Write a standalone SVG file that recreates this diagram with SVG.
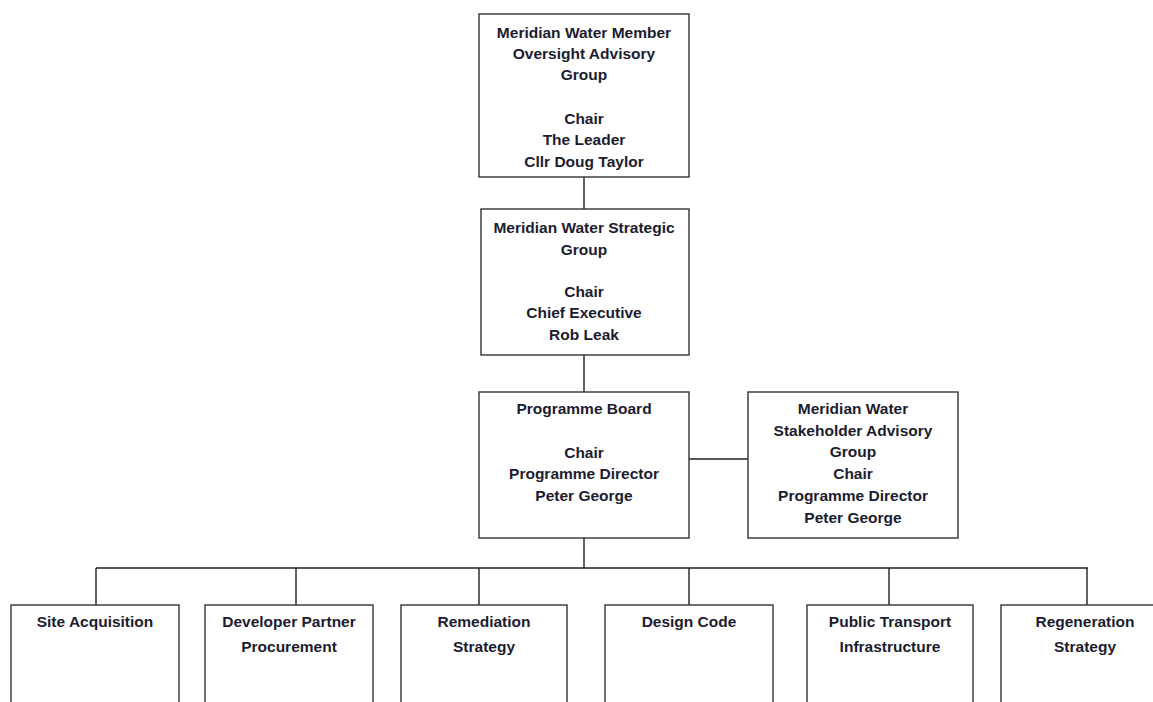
<svg xmlns="http://www.w3.org/2000/svg" width="1153" height="702" viewBox="0 0 1153 702">
<style>
.box{fill:#fff;stroke:#333;stroke-width:1.4}
.ln{fill:none;stroke:#222;stroke-width:1.4}
text{font-family:"Liberation Sans",Arial,sans-serif;font-weight:bold;font-size:15.5px;fill:#1c1c30;text-anchor:middle}
</style>
<rect width="1153" height="702" fill="#fff"/>
<g id="connectors">
<path class="ln" d="M584 177V209M584 355V392M584 538V568M689 459H748M96 568H1088M96 568V605M296 568V605M479 568V605M689 568V605M889 568V605M1087 568V605"/>
</g>
<g id="n1"><rect class="box" x="479" y="14" width="210" height="163"/>
<text x="584" y="38">Meridian Water Member</text><text x="584" y="59">Oversight Advisory</text><text x="584" y="80">Group</text><text x="584" y="124">Chair</text><text x="584" y="145">The Leader</text><text x="584" y="167">Cllr Doug Taylor</text></g>
<g id="n2"><rect class="box" x="481" y="209" width="208" height="146"/>
<text x="584" y="233">Meridian Water Strategic</text><text x="584" y="255">Group</text><text x="584" y="297">Chair</text><text x="584" y="318">Chief Executive</text><text x="584" y="340">Rob Leak</text></g>
<g id="n3"><rect class="box" x="479" y="392" width="210" height="146"/>
<text x="584" y="414">Programme Board</text><text x="584" y="458">Chair</text><text x="584" y="479">Programme Director</text><text x="584" y="501">Peter George</text></g>
<g id="n4"><rect class="box" x="748" y="392" width="210" height="146"/>
<text x="853" y="414">Meridian Water</text><text x="853" y="436">Stakeholder Advisory</text><text x="853" y="457">Group</text><text x="853" y="479">Chair</text><text x="853" y="501">Programme Director</text><text x="853" y="523">Peter George</text></g>
<g id="n5"><rect class="box" x="11" y="605" width="168" height="110"/><text x="95" y="627">Site Acquisition</text></g>
<g id="n6"><rect class="box" x="205" y="605" width="168" height="110"/><text x="289" y="627">Developer Partner</text><text x="289" y="652">Procurement</text></g>
<g id="n7"><rect class="box" x="401" y="605" width="166" height="110"/><text x="484" y="627">Remediation</text><text x="484" y="652">Strategy</text></g>
<g id="n8"><rect class="box" x="605" y="605" width="168" height="110"/><text x="689" y="627">Design Code</text></g>
<g id="n9"><rect class="box" x="807" y="605" width="166" height="110"/><text x="890" y="627">Public Transport</text><text x="890" y="652">Infrastructure</text></g>
<g id="n10"><rect class="box" x="1001" y="605" width="170" height="110"/><text x="1085" y="627">Regeneration</text><text x="1085" y="652">Strategy</text></g>
</svg>
